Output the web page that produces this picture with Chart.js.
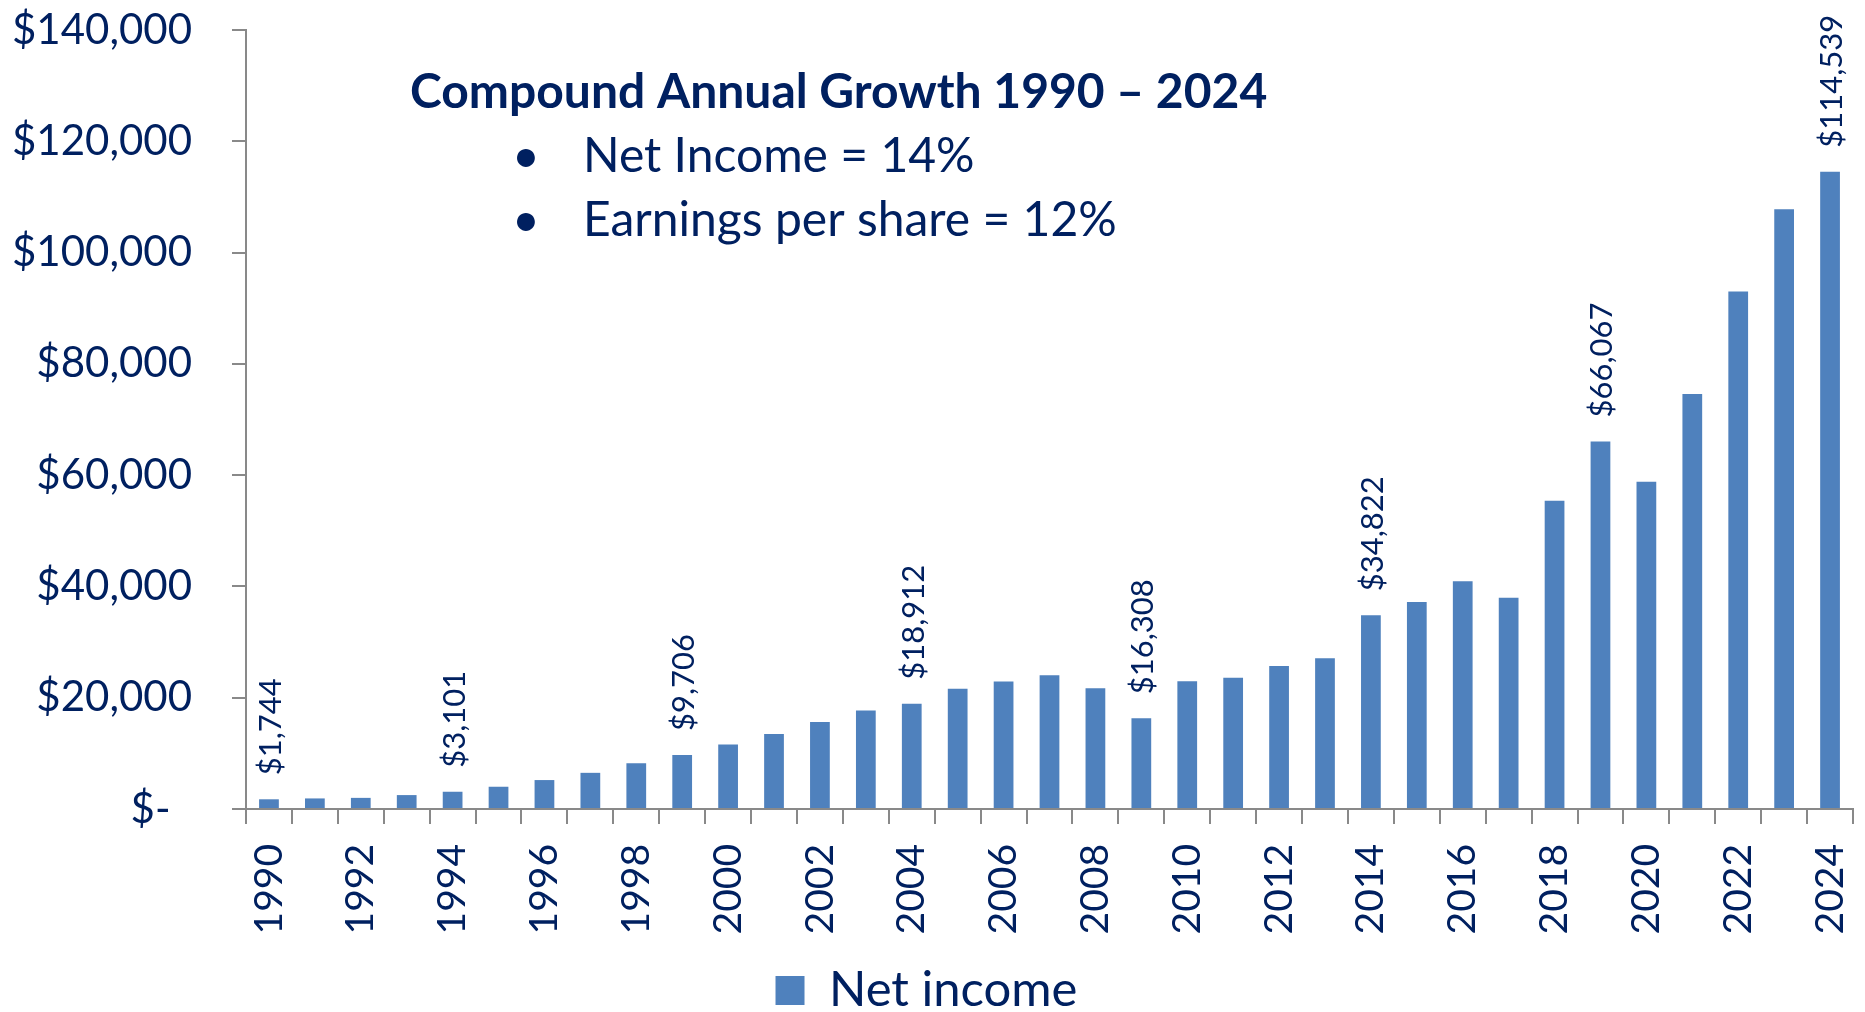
<!DOCTYPE html>
<html><head><meta charset="utf-8">
<script src="https://cdn.jsdelivr.net/npm/chart.js@4.4.1/dist/chart.umd.min.js"></script>
<style>html,body{margin:0;padding:0;background:#fff;overflow:hidden}#wrap{width:1865px;height:1012px;position:relative}</style>
</head><body><div id="wrap"><canvas id="c" width="1865" height="1012"></canvas></div>
<script>
const years = ['1990','1991','1992','1993','1994','1995','1996','1997','1998','1999','2000','2001','2002','2003','2004','2005','2006','2007','2008','2009','2010','2011','2012','2013','2014','2015','2016','2017','2018','2019','2020','2021','2022','2023','2024'];
const netIncome = [1744,1900,2000,2500,3101,4000,5200,6500,8200,9706,11600,13500,15650,17700,18912,21600,22900,24050,21700,16308,22950,23600,25700,27100,34822,37200,40950,37950,55400,66067,58800,74600,93000,107800,114539];
const labeledYears = ['1990','1994','1999','2004','2009','2014','2019','2024'];
const yTickValues = [0,20000,40000,60000,80000,100000,120000,140000];
const yTickLabels = ['$-  ','$20,000','$40,000','$60,000','$80,000','$100,000','$120,000','$140,000'];
const seriesName = 'Net income';
const titleText = 'Compound Annual Growth 1990 \u2013 2024';
const bulletLines = ['Net Income = 14%','Earnings per share = 12%'];

const NAVY = '#002060';
const AXIS = '#898989';
const BAR = '#4F81BD';

const dataLabelPlugin = {
  id: 'dataLabels',
  afterDatasetsDraw(chart) {
    const meta = chart.getDatasetMeta(0);
    const ctx = chart.ctx;
    ctx.save();
    ctx.font = '31px Lato';
    ctx.fillStyle = NAVY;
    meta.data.forEach((bar, i) => {
      if (!labeledYears.includes(years[i])) return;
      const txt = '$' + netIncome[i].toLocaleString('en-US');
      ctx.save();
      ctx.translate(bar.x + 2, bar.y - 24);
      ctx.rotate(-Math.PI / 2);
      ctx.textAlign = 'left';
      ctx.textBaseline = 'middle';
      ctx.fillText(txt, 0, 0);
      ctx.restore();
    });
    ctx.restore();
  }
};

const annotationPlugin = {
  id: 'cagrText',
  afterDraw(chart) {
    const ctx = chart.ctx;
    ctx.save();
    ctx.fillStyle = NAVY;
    ctx.textBaseline = 'middle';
    ctx.textAlign = 'left';
    ctx.font = 'bold 48px Lato';
    ctx.fillText(titleText, 410, 93);
    ctx.font = '48px Lato';
    bulletLines.forEach((t, k) => {
      const y = 157 + k * 64;
      ctx.fillText('\u2022', 512, y);
      ctx.fillText(t, 583, y);
    });
    ctx.restore();
  }
};

function build() {
  new Chart(document.getElementById('c'), {
    type: 'bar',
    data: {
      labels: years,
      datasets: [{
        label: seriesName,
        data: netIncome,
        backgroundColor: BAR,
        borderWidth: 0,
        categoryPercentage: 1.0,
        barPercentage: 0.43
      }]
    },
    options: {
      responsive: false,
      animation: false,
      layout: { padding: { left: 0, right: 12, top: 30, bottom: -13 } },
      plugins: {
        legend: {
          position: 'bottom',
          labels: { boxWidth: 29, boxHeight: 29, padding: 0, color: NAVY, font: { family: 'Lato', size: 49 } }
        },
        tooltip: { enabled: false },
        title: { display: false }
      },
      scales: {
        x: {
          grid: { display: true, drawOnChartArea: false, drawTicks: true, tickLength: 15, color: AXIS, lineWidth: 2, offset: true },
          border: { display: true, color: AXIS, width: 2 },
          ticks: {
            autoSkip: false, maxRotation: 90, minRotation: 90, padding: 20,
            color: NAVY, font: { family: 'Lato', size: 39 },
            callback: (v, i) => (i % 2 === 0 ? years[i] : '')
          },
          afterFit: s => { s.height = 157; s.paddingLeft = 0; s.paddingRight = 0; }
        },
        y: {
          min: 0, max: 140000,
          ticks: {
            stepSize: 20000, padding: 40, color: NAVY, font: { family: 'Lato', size: 42 },
            callback: v => { const k = yTickValues.indexOf(v); return k >= 0 ? yTickLabels[k] : ''; }
          },
          grid: { drawOnChartArea: false, drawTicks: true, tickLength: 14, color: AXIS, lineWidth: 2 },
          border: { display: true, color: AXIS, width: 2 },
          afterFit: s => { s.width = 246; s.paddingTop = 0; s.paddingBottom = 0; }
        }
      }
    },
    plugins: [dataLabelPlugin, annotationPlugin]
  });
}
Promise.all([document.fonts.load('42px Lato'), document.fonts.load('bold 48px Lato')]).then(build, build);
</script>
</body></html>
